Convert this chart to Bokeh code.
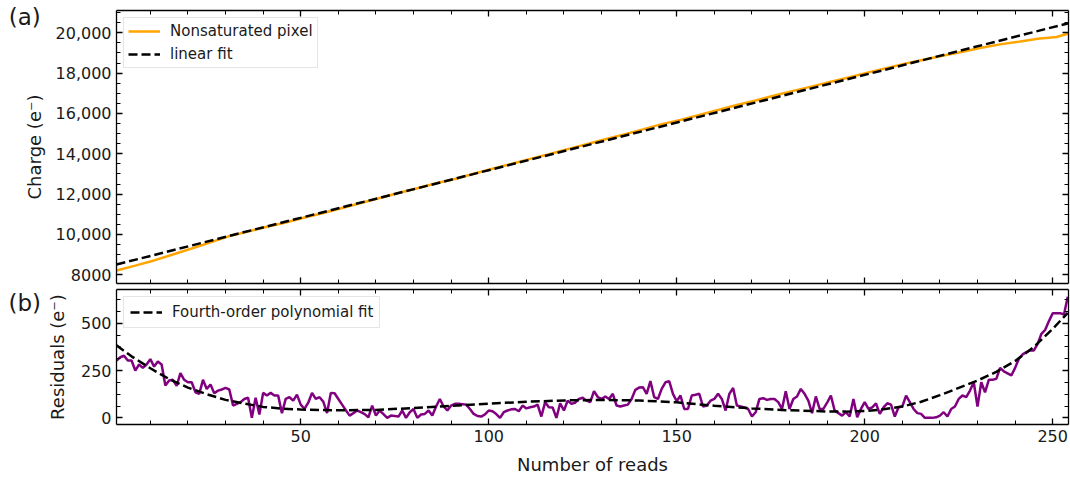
from bokeh.plotting import figure
from bokeh.models import Range1d, FixedTicker, LinearAxis, Legend, LegendItem
from bokeh.layouts import column
from bokeh.embed import file_html
from bokeh.resources import INLINE
from bokeh.core.properties import value
import numpy as np

# ---------------- data ----------------
charge_reads = [1, 6, 11, 16, 21, 26, 31, 36, 41, 46, 51, 56, 61, 66, 71, 76, 81, 86, 91, 96,
                101, 106, 111, 116, 121, 126, 131, 136, 141, 146, 151, 156, 161, 166, 171, 176,
                181, 186, 191, 196, 201, 206, 211, 216, 221, 226, 231, 236, 241, 246, 251, 254]
charge_values = [8211, 8457, 8714, 9010, 9306, 9612, 9919, 10145, 10386, 10597, 10844, 11065,
                 11316, 11562, 11809, 12060, 12291, 12537, 12749, 13010, 13256, 13497, 13749,
                 13980, 14231, 14477, 14724, 14955, 15211, 15472, 15679, 15925, 16171, 16417,
                 16639, 16890, 17121, 17342, 17574, 17795, 18036, 18257, 18484, 18680, 18876,
                 19062, 19259, 19425, 19560, 19700, 19790, 19950]

fit_reads = [1, 255]
fit_charge = [8511, 20512]

residuals = [
    303, 320, 328, 303, 303, 250, 282, 264, 282, 310,
    271, 298, 282, 171, 197, 201, 169, 236, 201, 188,
    188, 135, 127, 201, 153, 176, 130, 144, 150, 158,
    150, 65, 74, 83, 100, 106, 0, 106, 18, 132,
    118, 132, 118, 118, 25, 100, 109, 91, 123, 70,
    47, 80, 132, 100, 109, 86, 25, 132, 130, 100,
    70, 40, 12, 25, 39, 30, 20, 3, 65, 12,
    39, 20, 0, 12, 10, 7, 39, 0, 30, 47,
    0, 18, 21, 39, 12, 60, 100, 60, 39, 65,
    74, 74, 72, 70, 47, 21, 10, 7, 18, 39,
    35, 20, 0, 30, 39, 45, 47, 35, 65, 50,
    56, 60, 70, 7, 83, 56, 55, 0, 77, 39,
    91, 74, 80, 100, 106, 91, 83, 141, 110, 100,
    113, 100, 127, 65, 60, 65, 70, 100, 148, 160,
    162, 127, 194, 110, 100, 153, 188, 194, 127, 88,
    118, 47, 47, 118, 122, 127, 60, 65, 91, 100,
    127, 100, 39, 127, 158, 65, 60, 55, 47, 7,
    30, 100, 104, 95, 100, 100, 83, 47, 141, 47,
    100, 113, 153, 127, 91, 25, 113, 47, 47, 80,
    118, 39, 25, 12, 30, 7, 100, 3, 47, 83,
    47, 56, 77, 21, 56, 77, 70, 7, 56, 60,
    118, 83, 47, 25, 21, 0, 0, 0, 3, 12,
    30, 7, 47, 60, 100, 118, 110, 144, 188, 60,
    188, 135, 201, 201, 206, 264, 246, 235, 224, 264,
    312, 335, 347, 356, 356, 391, 444, 465, 511, 553,
    553, 553, 546, 640,
]
residual_reads = list(range(1, len(residuals) + 1))

poly_reads = [1, 5, 10, 15, 20, 25, 30, 35, 40, 45, 50, 60, 70, 80, 90, 100, 110, 120, 130,
              140, 150, 160, 170, 180, 190, 195, 200, 205, 210, 215, 220, 225, 230, 235, 240,
              245, 250, 254]
poly_values = [383, 325, 262, 205, 160, 125, 95, 75, 58, 49, 44, 40, 42, 52, 64, 75, 85, 92, 95,
               92, 82, 64, 50, 40, 34, 33, 36, 45, 60, 85, 120, 158, 197, 243, 300,
               375, 470, 555]

x_ticks = [50, 100, 150, 200, 250]
charge_ticks = [8000, 10000, 12000, 14000, 16000, 18000, 20000]
charge_tick_labels = ["8000", "10,000", "12,000", "14,000", "16,000", "18,000", "20,000"]
resid_ticks = [0, 250, 500]

FONT = "DejaVu Sans"
TEXT = "#1a1a1a"

x_ticker = FixedTicker(ticks=x_ticks, minor_ticks=[float(v) for v in np.arange(0, 261, 10)])
c_ticker = FixedTicker(ticks=charge_ticks, minor_ticks=[float(v) for v in np.arange(7500, 21501, 500)])
r_ticker = FixedTicker(ticks=resid_ticks, minor_ticks=[float(v) for v in np.arange(-62.5, 700, 62.5)])


def style_axis(ax, ticker, labels):
    ax.ticker = ticker
    ax.axis_line_color = "black"
    ax.axis_line_width = 1.3
    ax.major_tick_line_color = "black"
    ax.minor_tick_line_color = "black"
    ax.major_tick_line_width = 1.3
    ax.minor_tick_line_width = 1.0
    ax.major_tick_in = 6
    ax.major_tick_out = 0
    ax.minor_tick_in = 4
    ax.minor_tick_out = 0
    ax.major_label_text_font = FONT
    ax.major_label_text_color = TEXT
    ax.axis_label_text_font = FONT
    ax.axis_label_text_font_style = "normal"
    ax.axis_label_text_color = TEXT
    ax.axis_label_text_font_size = "18px"
    if labels:
        ax.major_label_text_font_size = "16px"
        ax.major_label_standoff = 5
    else:
        ax.major_label_text_color = None
        ax.major_label_standoff = 0
        ax.axis_label = None


W = 1070
x_range = Range1d(1, 254.2)

# ---------------- top panel ----------------
p1 = figure(width=W, height=286, x_range=x_range, y_range=Range1d(7570, 21105),
            output_backend="svg", toolbar_location=None,
            min_border_left=116, min_border_right=2, min_border_top=10, min_border_bottom=3)
p1.xgrid.visible = False
p1.ygrid.visible = False
p1.outline_line_color = None
p1.background_fill_color = "white"
p1.border_fill_color = "white"

r_charge = p1.line(charge_reads, charge_values, line_color="#FFA500", line_width=2.5)
r_fit = p1.line(fit_reads, fit_charge, line_color="black", line_width=2.5, line_dash="9 4")

style_axis(p1.xaxis[0], x_ticker, False)
style_axis(p1.yaxis[0], c_ticker, True)
p1.yaxis[0].axis_label = "Charge (e\u207b)"
p1.yaxis[0].axis_label_standoff = 8
p1.yaxis[0].major_label_overrides = {t: l for t, l in zip(charge_ticks, charge_tick_labels)}
ax_r1 = LinearAxis()
style_axis(ax_r1, c_ticker, False)
p1.add_layout(ax_r1, "right")
ax_t1 = LinearAxis()
style_axis(ax_t1, x_ticker, False)
p1.add_layout(ax_t1, "above")

leg1 = Legend(items=[LegendItem(label="Nonsaturated pixel", renderers=[r_charge]),
                     LegendItem(label="linear fit", renderers=[r_fit])],
              location="top_left", margin=7, padding=4, spacing=5, label_height=18,
              glyph_height=18, glyph_width=32, label_standoff=10,
              label_text_font=FONT, label_text_font_size="15px", label_text_color=TEXT,
              border_line_color="#cccccc", border_line_width=1, background_fill_alpha=0.85)
p1.add_layout(leg1)

# panel tag (a): text glyph on the overlay level (not clipped to the frame)
p1.text(x=[-23.4], y=[20758], text=["(a)"], text_font=value(FONT), text_font_size="23px",
        text_align="center", text_baseline="middle", text_color=TEXT, level="overlay")

# ---------------- bottom panel ----------------
p2 = figure(width=W, height=192, x_range=x_range, y_range=Range1d(-35, 678),
            output_backend="svg", toolbar_location=None,
            min_border_left=116, min_border_right=2, min_border_top=3, min_border_bottom=54)
p2.xgrid.visible = False
p2.ygrid.visible = False
p2.outline_line_color = None

p2.line(residual_reads, residuals, line_color="#800080", line_width=2.5)
r_poly = p2.line(poly_reads, poly_values, line_color="black", line_width=2.5, line_dash="9 4")

style_axis(p2.xaxis[0], x_ticker, True)
p2.xaxis[0].axis_label = "Number of reads"
p2.xaxis[0].major_label_standoff = 5
p2.xaxis[0].axis_label_standoff = 9
style_axis(p2.yaxis[0], r_ticker, True)
p2.yaxis[0].axis_label = "Residuals (e\u207b)"
p2.yaxis[0].axis_label_standoff = 10
ax_r2 = LinearAxis()
style_axis(ax_r2, r_ticker, False)
p2.add_layout(ax_r2, "right")
ax_t2 = LinearAxis()
style_axis(ax_t2, x_ticker, False)
p2.add_layout(ax_t2, "above")

leg2 = Legend(items=[LegendItem(label="Fourth-order polynomial fit", renderers=[r_poly])],
              location="top_left", margin=7, padding=6, spacing=5, label_height=18,
              glyph_height=18, glyph_width=32, label_standoff=10,
              label_text_font=FONT, label_text_font_size="15px", label_text_color=TEXT,
              border_line_color="#cccccc", border_line_width=1, background_fill_alpha=0.85)
p2.add_layout(leg2)

# panel tag (b)
p2.text(x=[-23.4], y=[609], text=["(b)"], text_font=value(FONT), text_font_size="23px",
        text_align="center", text_baseline="middle", text_color=TEXT, level="overlay")

layout = column(p1, p2, spacing=0)
open("out.html", "w").write(file_html(layout, INLINE))
